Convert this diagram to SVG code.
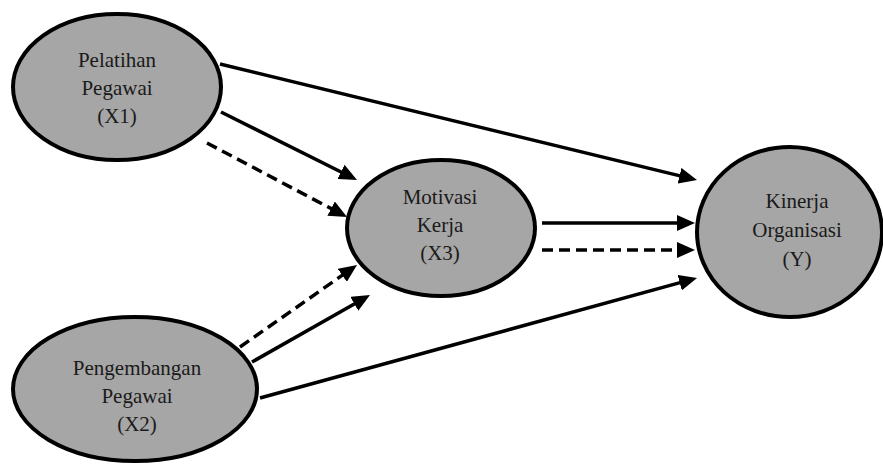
<svg xmlns="http://www.w3.org/2000/svg" width="883" height="464" viewBox="0 0 883 464">
<style>
.node ellipse{fill:#a6a6a6;stroke:#000;stroke-width:4}
.node text{font-family:'Liberation Serif','Times New Roman',serif;font-size:21px;fill:#1a1a1a;text-anchor:middle}
.c line{stroke:#000;stroke-width:3.5;fill:none}
.c .d{stroke-dasharray:11 6}
</style>
<defs>
<marker id="ah" markerUnits="userSpaceOnUse" markerWidth="18" markerHeight="16" refX="8" refY="8" orient="auto">
<path d="M0,0 L18,8 L0,16 Z" fill="#000"/>
</marker>
</defs>
<rect width="883" height="464" fill="#fff"/>
<g id="connectors" class="c">
<line x1="220" y1="64" x2="687.3" y2="177.6" marker-end="url(#ah)"/>
<line x1="221" y1="112" x2="348.1" y2="175.5" marker-end="url(#ah)"/>
<line class="d" x1="207" y1="143" x2="338.2" y2="212.3" marker-end="url(#ah)"/>
<line class="d" x1="240" y1="347" x2="348.8" y2="270.7" marker-end="url(#ah)"/>
<line x1="252" y1="362" x2="361.3" y2="299.9" marker-end="url(#ah)"/>
<line x1="260" y1="398" x2="687.4" y2="280.6" marker-end="url(#ah)"/>
<line x1="542" y1="223" x2="685" y2="223" marker-end="url(#ah)"/>
<line class="d" x1="542" y1="250" x2="685" y2="250" marker-end="url(#ah)"/>
</g>
<g id="x1" class="node">
<ellipse cx="117" cy="87" rx="104" ry="73"/>
<text x="117" y="67">Pelatihan</text>
<text x="117" y="95">Pegawai</text>
<text x="117" y="123">(X1)</text>
</g>
<g id="x2" class="node">
<ellipse cx="135" cy="389" rx="122" ry="72"/>
<text x="137" y="375">Pengembangan</text>
<text x="137" y="403">Pegawai</text>
<text x="137" y="431">(X2)</text>
</g>
<g id="x3" class="node">
<ellipse cx="441" cy="228" rx="94" ry="68"/>
<text x="440" y="204">Motivasi</text>
<text x="440" y="232">Kerja</text>
<text x="440" y="260">(X3)</text>
</g>
<g id="y" class="node">
<ellipse cx="789.5" cy="232" rx="92.5" ry="85"/>
<text x="797" y="208">Kinerja</text>
<text x="797" y="237">Organisasi</text>
<text x="797" y="266">(Y)</text>
</g>
</svg>
